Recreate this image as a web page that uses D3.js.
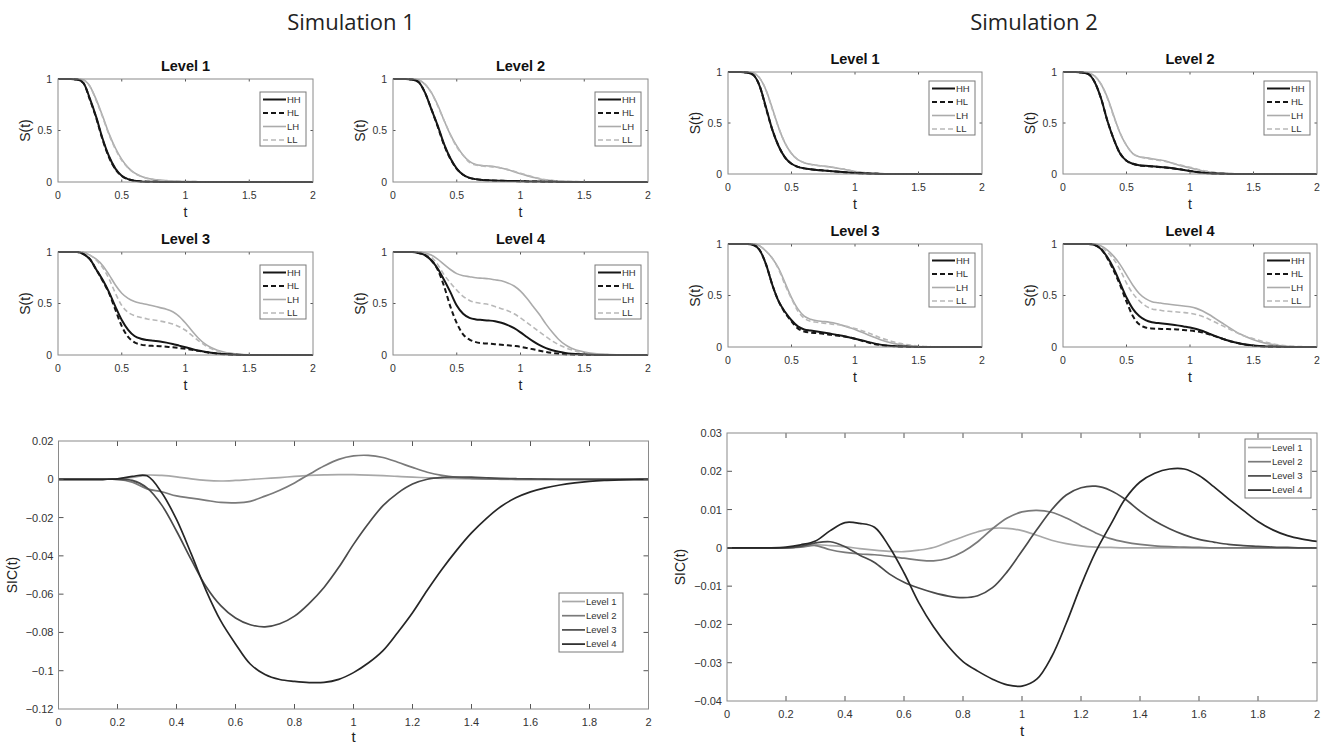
<!DOCTYPE html>
<html><head><meta charset="utf-8">
<script src="https://cdn.jsdelivr.net/npm/d3@7/dist/d3.min.js"></script>
<style>body{margin:0;background:#fff}svg{display:block}</style>
</head><body><svg id="c" width="1329" height="745"></svg>
<script>
// ---------------- DATA ----------------
const simTitles = ["Simulation 1", "Simulation 2"];
const levelNames = ["Level 1", "Level 2", "Level 3", "Level 4"];
const condNames = ["HH", "HL", "LH", "LL"];
const sTicksX = [0, 0.5, 1, 1.5, 2];
const sTicksY = [0, 0.5, 1];
const sicTicksX = [0, 0.2, 0.4, 0.6, 0.8, 1, 1.2, 1.4, 1.6, 1.8, 2];
const sic1TicksY = [0.02, 0, -0.02, -0.04, -0.06, -0.08, -0.1, -0.12];
const sic2TicksY = [0.03, 0.02, 0.01, 0, -0.01, -0.02, -0.03, -0.04];

const tS = [0,0.1,0.15,0.2,0.25,0.3,0.35,0.4,0.45,0.5,0.55,0.6,0.65,0.7,0.75,0.8,0.85,0.9,0.95,1.0,1.05,1.1,1.15,1.2,1.25,1.3,1.35,1.4,1.5,1.6,1.7,1.8,1.9,2.0];

// Simulation 1 survivor functions
const s1L1_HH = [1,1,0.995,0.96,0.81,0.63,0.42,0.25,0.13,0.06,0.028,0.012,0.006,0.003,0.002,0.001,0.001,0,0,0,0,0,0,0,0,0,0,0,0,0,0,0,0,0];
const s1L1_HL = [1,1,0.995,0.96,0.8,0.62,0.41,0.24,0.125,0.058,0.027,0.012,0.006,0.003,0.002,0.001,0,0,0,0,0,0,0,0,0,0,0,0,0,0,0,0,0,0];
const s1L1_LH = [1,1,1,0.99,0.93,0.8,0.64,0.47,0.33,0.22,0.14,0.088,0.056,0.036,0.025,0.018,0.014,0.01,0.007,0.005,0.004,0.003,0.002,0.001,0.001,0,0,0,0,0,0,0,0,0];
const s1L1_LL = [1,1,1,0.99,0.93,0.79,0.63,0.46,0.32,0.21,0.135,0.085,0.055,0.035,0.024,0.017,0.013,0.01,0.007,0.005,0.004,0.003,0.002,0.001,0.001,0,0,0,0,0,0,0,0,0];

const s1L2_HH = [1,1,0.995,0.97,0.87,0.71,0.55,0.37,0.23,0.13,0.07,0.04,0.028,0.02,0.016,0.014,0.012,0.01,0.009,0.008,0.006,0.005,0.004,0.003,0.002,0.001,0.001,0,0,0,0,0,0,0];
const s1L2_HL = [1,1,0.995,0.97,0.87,0.71,0.54,0.36,0.225,0.128,0.07,0.04,0.027,0.02,0.016,0.013,0.011,0.01,0.009,0.007,0.006,0.005,0.004,0.003,0.002,0.001,0.001,0,0,0,0,0,0,0];
const s1L2_LH = [1,1,1,0.99,0.95,0.87,0.75,0.6,0.46,0.35,0.26,0.2,0.17,0.16,0.155,0.148,0.135,0.12,0.1,0.08,0.062,0.045,0.03,0.02,0.014,0.01,0.007,0.005,0.002,0.001,0,0,0,0];
const s1L2_LL = [1,1,1,0.99,0.95,0.87,0.74,0.6,0.46,0.34,0.26,0.19,0.165,0.155,0.15,0.145,0.135,0.12,0.105,0.085,0.066,0.048,0.033,0.022,0.015,0.01,0.007,0.005,0.002,0.001,0,0,0,0];

const s1L3_HH = [1,1,1,0.98,0.93,0.83,0.73,0.61,0.47,0.34,0.245,0.185,0.158,0.145,0.138,0.131,0.12,0.107,0.091,0.075,0.058,0.043,0.031,0.021,0.014,0.009,0.005,0.003,0.001,0,0,0,0,0];
const s1L3_HL = [1,1,1,0.98,0.93,0.83,0.72,0.6,0.44,0.28,0.175,0.123,0.101,0.092,0.088,0.085,0.08,0.075,0.068,0.06,0.05,0.04,0.03,0.02,0.013,0.008,0.004,0.002,0,0,0,0,0,0];
const s1L3_LH = [1,1,1,0.995,0.97,0.93,0.87,0.78,0.68,0.6,0.55,0.52,0.503,0.49,0.475,0.46,0.445,0.42,0.375,0.31,0.235,0.165,0.11,0.072,0.047,0.03,0.018,0.01,0.003,0.001,0,0,0,0];
const s1L3_LL = [1,1,1,0.995,0.97,0.92,0.85,0.74,0.6,0.48,0.415,0.382,0.365,0.35,0.34,0.33,0.317,0.3,0.275,0.24,0.19,0.14,0.097,0.062,0.038,0.022,0.012,0.006,0.002,0.001,0,0,0,0];

const s1L4_HH = [1,1,1,0.99,0.97,0.92,0.84,0.73,0.61,0.48,0.4,0.36,0.345,0.34,0.335,0.328,0.313,0.29,0.26,0.22,0.175,0.132,0.095,0.067,0.046,0.031,0.02,0.012,0.005,0.001,0,0,0,0];
const s1L4_HL = [1,1,1,0.99,0.97,0.92,0.83,0.67,0.47,0.31,0.2,0.15,0.125,0.115,0.11,0.105,0.1,0.095,0.088,0.08,0.068,0.055,0.042,0.03,0.02,0.012,0.007,0.004,0.001,0,0,0,0,0];
const s1L4_LH = [1,1,1,1,0.99,0.97,0.93,0.88,0.83,0.79,0.77,0.76,0.75,0.745,0.74,0.73,0.72,0.7,0.67,0.62,0.55,0.47,0.39,0.3,0.22,0.15,0.1,0.065,0.03,0.012,0.005,0.001,0,0];
const s1L4_LL = [1,1,1,1,0.98,0.95,0.88,0.78,0.7,0.63,0.57,0.53,0.51,0.5,0.49,0.47,0.45,0.43,0.4,0.36,0.315,0.27,0.223,0.178,0.135,0.1,0.072,0.05,0.02,0.008,0.003,0.001,0,0];

// Simulation 2 survivor functions
const s2L1_HH = [1,1,0.995,0.97,0.86,0.65,0.43,0.27,0.16,0.1,0.07,0.055,0.047,0.04,0.035,0.03,0.025,0.02,0.015,0.01,0.007,0.004,0.002,0.001,0,0,0,0,0,0,0,0,0,0];
const s2L1_HL = [1,1,0.995,0.97,0.86,0.64,0.43,0.27,0.16,0.1,0.07,0.055,0.046,0.04,0.034,0.029,0.024,0.019,0.014,0.01,0.007,0.004,0.002,0.001,0,0,0,0,0,0,0,0,0,0];
const s2L1_LH = [1,1,1,0.99,0.94,0.82,0.64,0.45,0.3,0.2,0.14,0.11,0.095,0.085,0.078,0.07,0.06,0.05,0.037,0.025,0.017,0.01,0.007,0.004,0.002,0.001,0,0,0,0,0,0,0,0];
const s2L1_LL = [1,1,1,0.99,0.94,0.82,0.63,0.45,0.3,0.2,0.14,0.11,0.093,0.084,0.077,0.07,0.06,0.05,0.038,0.026,0.018,0.011,0.007,0.004,0.002,0.001,0,0,0,0,0,0,0,0];

const s2L2_HH = [1,1,0.995,0.98,0.9,0.74,0.52,0.34,0.2,0.13,0.1,0.085,0.08,0.075,0.07,0.065,0.058,0.05,0.04,0.03,0.02,0.012,0.007,0.004,0.002,0.001,0,0,0,0,0,0,0,0];
const s2L2_HL = [1,1,0.995,0.98,0.9,0.74,0.52,0.34,0.2,0.13,0.1,0.085,0.079,0.074,0.069,0.064,0.057,0.049,0.04,0.03,0.02,0.012,0.007,0.004,0.002,0.001,0,0,0,0,0,0,0,0];
const s2L2_LH = [1,1,1,0.99,0.96,0.88,0.75,0.57,0.4,0.28,0.2,0.17,0.16,0.15,0.14,0.13,0.11,0.09,0.075,0.06,0.045,0.03,0.02,0.012,0.008,0.005,0.003,0.002,0,0,0,0,0,0];
const s2L2_LL = [1,1,1,0.99,0.96,0.88,0.74,0.56,0.4,0.28,0.2,0.17,0.155,0.145,0.135,0.125,0.11,0.095,0.08,0.065,0.05,0.035,0.024,0.015,0.009,0.006,0.003,0.002,0.001,0,0,0,0,0];

const s2L3_HH = [1,1,1,0.99,0.94,0.8,0.6,0.44,0.34,0.26,0.2,0.17,0.16,0.15,0.14,0.13,0.12,0.11,0.095,0.08,0.065,0.05,0.035,0.023,0.015,0.01,0.006,0.004,0.001,0,0,0,0,0];
const s2L3_HL = [1,1,1,0.99,0.94,0.8,0.6,0.44,0.33,0.25,0.18,0.15,0.14,0.135,0.128,0.12,0.112,0.105,0.093,0.08,0.062,0.045,0.03,0.02,0.013,0.008,0.004,0.002,0,0,0,0,0,0];
const s2L3_LH = [1,1,1,1,0.98,0.93,0.86,0.76,0.62,0.48,0.37,0.3,0.27,0.255,0.248,0.24,0.228,0.21,0.19,0.17,0.145,0.12,0.095,0.07,0.05,0.035,0.024,0.015,0.005,0.001,0,0,0,0];
const s2L3_LL = [1,1,1,1,0.98,0.93,0.86,0.75,0.6,0.47,0.35,0.28,0.25,0.24,0.232,0.225,0.218,0.21,0.195,0.18,0.16,0.14,0.115,0.09,0.07,0.05,0.035,0.025,0.01,0.003,0.001,0,0,0];

const s2L4_HH = [1,1,1,1,0.99,0.95,0.87,0.76,0.62,0.48,0.37,0.3,0.26,0.24,0.232,0.225,0.218,0.21,0.2,0.19,0.175,0.155,0.13,0.105,0.083,0.063,0.046,0.032,0.015,0.006,0.002,0,0,0];
const s2L4_HL = [1,1,1,1,0.99,0.95,0.86,0.74,0.6,0.44,0.3,0.22,0.19,0.18,0.177,0.175,0.172,0.17,0.165,0.16,0.152,0.14,0.123,0.103,0.083,0.063,0.046,0.032,0.012,0.004,0.001,0,0,0];
const s2L4_LH = [1,1,1,1,1,0.98,0.94,0.88,0.8,0.7,0.6,0.52,0.47,0.44,0.43,0.42,0.412,0.405,0.398,0.39,0.375,0.35,0.315,0.275,0.235,0.195,0.157,0.123,0.07,0.035,0.015,0.005,0.001,0];
const s2L4_LL = [1,1,1,1,0.995,0.97,0.92,0.85,0.75,0.62,0.52,0.45,0.4,0.37,0.36,0.35,0.345,0.34,0.335,0.328,0.315,0.295,0.27,0.24,0.21,0.18,0.15,0.12,0.08,0.045,0.02,0.008,0.003,0];

// SIC curves
const tSIC = [0,0.05,0.1,0.15,0.2,0.25,0.3,0.35,0.4,0.45,0.5,0.55,0.6,0.65,0.7,0.75,0.8,0.85,0.9,0.95,1.0,1.05,1.1,1.15,1.2,1.25,1.3,1.35,1.4,1.45,1.5,1.55,1.6,1.65,1.7,1.75,1.8,1.85,1.9,1.95,2.0];
const sic1_L1 = [0,0,0,0,0.0002,0.001,0.0022,0.002,0.0013,0.0002,-0.0006,-0.0009,-0.0006,-0.0001,0.0004,0.0009,0.0015,0.002,0.0023,0.0024,0.0024,0.0022,0.0019,0.0015,0.0011,0.0008,0.0005,0.0003,0.0002,0.0001,0,0,0,0,0,0,0,0,0,0,0];
const sic1_L2 = [0,0,0,0,0,-0.0015,-0.005,-0.0065,-0.0087,-0.0098,-0.011,-0.0121,-0.0123,-0.0115,-0.0088,-0.0057,-0.0019,0.0026,0.0069,0.0104,0.0122,0.0125,0.0114,0.0089,0.0062,0.0037,0.002,0.001,0.0005,0.0002,0.0001,0,0,0,0,0,0,0,0,0,0];
const sic1_L3 = [0,0,0,0,0,-0.0006,-0.0045,-0.0135,-0.027,-0.042,-0.056,-0.066,-0.0725,-0.076,-0.0771,-0.0755,-0.0715,-0.0648,-0.0565,-0.046,-0.034,-0.0232,-0.0138,-0.0072,-0.0025,0,0.001,0.0012,0.0011,0.0008,0.0005,0.0003,0.0002,0.0001,0,0,0,0,0,0,0];
const sic1_L4 = [0,0,0,0,0.0002,0.0015,0.0018,-0.007,-0.021,-0.039,-0.058,-0.074,-0.086,-0.0965,-0.102,-0.1046,-0.1056,-0.1062,-0.1061,-0.1045,-0.101,-0.096,-0.0895,-0.08,-0.0697,-0.058,-0.047,-0.037,-0.028,-0.0205,-0.0142,-0.0097,-0.0066,-0.0045,-0.003,-0.0019,-0.0011,-0.0006,-0.0003,-0.0001,0];
const sic2_L1 = [0,0,0,0,0,0.0003,0.0008,0.0006,0.0003,-0.0002,-0.0006,-0.0009,-0.001,-0.0006,0.0001,0.0015,0.0029,0.0042,0.0051,0.0051,0.0045,0.0033,0.002,0.0011,0.0005,0.0002,0.0001,0,0,0,0,0,0,0,0,0,0,0,0,0,0];
const sic2_L2 = [0,0,0,0,0,0.0002,0.0006,-0.0005,-0.0012,-0.0016,-0.0018,-0.0022,-0.0027,-0.0032,-0.0034,-0.0027,-0.001,0.0016,0.005,0.0078,0.0094,0.0098,0.0093,0.0078,0.0058,0.0039,0.0024,0.0015,0.0009,0.0005,0.0003,0.0002,0.0001,0,0,0,0,0,0,0,0];
const sic2_L3 = [0,0,0,0,0,0.0004,0.0013,0.0016,0.0003,-0.0019,-0.0038,-0.0068,-0.009,-0.0105,-0.0117,-0.0126,-0.013,-0.0125,-0.0104,-0.0062,-0.0008,0.0047,0.0099,0.0138,0.0157,0.0161,0.015,0.0127,0.0096,0.007,0.005,0.0034,0.0022,0.0015,0.0009,0.0006,0.0004,0.0002,0.0001,0,0];
const sic2_L4 = [0,0,0,0,0.0002,0.0008,0.0018,0.0045,0.0066,0.0064,0.0054,0.0003,-0.0065,-0.0143,-0.0206,-0.0257,-0.0297,-0.0322,-0.0343,-0.0358,-0.0361,-0.0343,-0.0285,-0.0197,-0.0098,-0.001,0.006,0.0128,0.0172,0.0195,0.0206,0.0206,0.0189,0.016,0.0128,0.0098,0.0069,0.0047,0.0032,0.0023,0.0017];

// ---------------- DRAWING ----------------
const svg = d3.select("#c");
const FONT = "'Liberation Sans', Arial, sans-serif";
const condStyle = {
  HH: {stroke: "#161616", w: 2, dash: null},
  HL: {stroke: "#161616", w: 2, dash: "5,3"},
  LH: {stroke: "#ababab", w: 1.6, dash: null},
  LL: {stroke: "#b8b8b8", w: 1.6, dash: "5,3"}
};
const levelColors = ["#a8a8a8", "#7a7a7a", "#4a4a4a", "#262626"];

const survival = [
  [[s1L1_HH,s1L1_HL,s1L1_LH,s1L1_LL],[s1L2_HH,s1L2_HL,s1L2_LH,s1L2_LL],[s1L3_HH,s1L3_HL,s1L3_LH,s1L3_LL],[s1L4_HH,s1L4_HL,s1L4_LH,s1L4_LL]],
  [[s2L1_HH,s2L1_HL,s2L1_LH,s2L1_LL],[s2L2_HH,s2L2_HL,s2L2_LH,s2L2_LL],[s2L3_HH,s2L3_HL,s2L3_LH,s2L3_LL],[s2L4_HH,s2L4_HL,s2L4_LH,s2L4_LL]]
];
const sicData = [[sic1_L1,sic1_L2,sic1_L3,sic1_L4],[sic2_L1,sic2_L2,sic2_L3,sic2_L4]];

const panelBoxes = [
  [{x0:58,x1:313,y0:79,y1:182},{x0:393,x1:648,y0:79,y1:182},{x0:58,x1:313,y0:252,y1:355},{x0:393,x1:648,y0:252,y1:355}],
  [{x0:728,x1:982,y0:72,y1:174},{x0:1063,x1:1317,y0:72,y1:174},{x0:728,x1:982,y0:244,y1:347},{x0:1063,x1:1317,y0:244,y1:347}]
];
const legendOffset = [13, 9];
const titlePos = [{x:351,y:30},{x:1034,y:30}];
const sicBoxes = [{x0:58.5,x1:648.5,y0:441,y1:709},{x0:727,x1:1317,y0:433,y1:701}];
const sicDomains = [[-0.12,0.02],[-0.04,0.03]];
const sicTicksY = [sic1TicksY, sic2TicksY];
const sicLegend = [{x:559,y:593,w:64,h:59},{x:1245,y:439,w:66,h:59}];

function fmt(v){ return d3.format("~g")(+v.toFixed(4)); }

function drawBox(g, x, y, tickLen, xTicks, yTicks) {
  const [x0,x1] = x.range(), [y1,y0] = y.range();
  xTicks.forEach(v => {
    const px = x(v);
    if (Math.abs(px-x0)<0.5 || Math.abs(px-x1)<0.5) return;
    g.append("line").attr("x1",px).attr("x2",px).attr("y1",y1).attr("y2",y1-tickLen).attr("stroke","#555");
    g.append("line").attr("x1",px).attr("x2",px).attr("y1",y0).attr("y2",y0+tickLen).attr("stroke","#555");
  });
  yTicks.forEach(v => {
    const py = y(v);
    if (Math.abs(py-y0)<0.5 || Math.abs(py-y1)<0.5) return;
    g.append("line").attr("x1",x0).attr("x2",x0+tickLen).attr("y1",py).attr("y2",py).attr("stroke","#555");
    g.append("line").attr("x1",x1).attr("x2",x1-tickLen).attr("y1",py).attr("y2",py).attr("stroke","#555");
  });
  g.append("rect").attr("x",x0).attr("y",y0).attr("width",x1-x0).attr("height",y1-y0)
    .attr("fill","none").attr("stroke","#8a8a8a").attr("stroke-width",1);
}

simTitles.forEach((t,i)=>{
  svg.append("text").attr("x",titlePos[i].x).attr("y",titlePos[i].y).attr("text-anchor","middle")
    .attr("font-family","'Open Sans', sans-serif").attr("font-size",22).attr("fill","#222").text(t);
});

survival.forEach((sim, si) => {
  sim.forEach((lev, li) => {
    const b = panelBoxes[si][li];
    const g = svg.append("g");
    const x = d3.scaleLinear().domain([0,2]).range([b.x0,b.x1]);
    const y = d3.scaleLinear().domain([0,1]).range([b.y1,b.y0]);
    const line = d3.line().x((d,i)=>x(tS[i])).y(d=>y(d)).curve(d3.curveMonotoneX);
    [2,3,0,1].forEach(ci => {
      const st = condStyle[condNames[ci]];
      g.append("path").attr("d", line(lev[ci])).attr("fill","none")
        .attr("stroke",st.stroke).attr("stroke-width",st.w)
        .attr("stroke-dasharray",st.dash);
    });
    drawBox(g, x, y, 2.5, sTicksX, sTicksY);
    sTicksX.forEach(v => g.append("text").attr("x",x(v)).attr("y",b.y1+17).attr("text-anchor","middle")
      .attr("font-family",FONT).attr("font-size",10.5).attr("fill","#333").text(fmt(v)));
    sTicksY.forEach(v => g.append("text").attr("x",b.x0-6).attr("y",y(v)+3.8).attr("text-anchor","end")
      .attr("font-family",FONT).attr("font-size",10.5).attr("fill","#333").text(fmt(v)));
    g.append("text").attr("x",(b.x0+b.x1)/2).attr("y",b.y1+35).attr("text-anchor","middle")
      .attr("font-family",FONT).attr("font-size",14).attr("fill","#222").text("t");
    g.append("text").attr("transform",`translate(${b.x0-28},${(b.y0+b.y1)/2}) rotate(-90)`)
      .attr("text-anchor","middle").attr("font-family",FONT).attr("font-size",14).attr("fill","#222").text("S(t)");
    g.append("text").attr("x",(b.x0+b.x1)/2).attr("y",b.y0-8).attr("text-anchor","middle")
      .attr("font-family",FONT).attr("font-weight","bold").attr("font-size",14.5).attr("fill","#111").text(levelNames[li]);
    const lx = b.x1-53, ly = b.y0+legendOffset[si], lw = 46, lh = 54;
    g.append("rect").attr("x",lx).attr("y",ly).attr("width",lw).attr("height",lh)
      .attr("fill","#fff").attr("stroke","#7a7a7a").attr("stroke-width",1);
    condNames.forEach((c,ci)=>{
      const st = condStyle[c], yy = ly + 7.5 + ci*13.5;
      g.append("line").attr("x1",lx+3).attr("x2",lx+26).attr("y1",yy).attr("y2",yy)
        .attr("stroke",st.stroke).attr("stroke-width",st.w).attr("stroke-dasharray",st.dash);
      g.append("text").attr("x",lx+27).attr("y",yy+3.3).attr("font-family",FONT).attr("font-size",9.5)
        .attr("fill","#333").text(c);
    });
  });
});

sicData.forEach((series, si) => {
  const b = sicBoxes[si];
  const g = svg.append("g");
  const x = d3.scaleLinear().domain([0,2]).range([b.x0,b.x1]);
  const y = d3.scaleLinear().domain(sicDomains[si]).range([b.y1,b.y0]);
  const line = d3.line().x((d,i)=>x(tSIC[i])).y(d=>y(d)).curve(d3.curveCatmullRom.alpha(0.5));
  series.forEach((s, li) => {
    g.append("path").attr("d", line(s)).attr("fill","none").attr("stroke",levelColors[li]).attr("stroke-width",1.7);
  });
  drawBox(g, x, y, 5, sicTicksX, sicTicksY[si]);
  sicTicksX.forEach(v => g.append("text").attr("x",x(v)).attr("y",b.y1+17).attr("text-anchor","middle")
    .attr("font-family",FONT).attr("font-size",11).attr("fill","#333").text(fmt(v)));
  sicTicksY[si].forEach(v => g.append("text").attr("x",b.x0-5).attr("y",y(v)+4).attr("text-anchor","end")
    .attr("font-family",FONT).attr("font-size",11).attr("fill","#333").text(fmt(v)));
  g.append("text").attr("x",(b.x0+b.x1)/2).attr("y",Math.min(b.y1+35,742)).attr("text-anchor","middle")
    .attr("font-family",FONT).attr("font-size",15).attr("fill","#222").text("t");
  g.append("text").attr("transform",`translate(${b.x0-42},${(b.y0+b.y1)/2}) rotate(-90)`)
    .attr("text-anchor","middle").attr("font-family",FONT).attr("font-size",14).attr("fill","#222").text("SIC(t)");
  const L = sicLegend[si];
  g.append("rect").attr("x",L.x).attr("y",L.y).attr("width",L.w).attr("height",L.h)
    .attr("fill","#fff").attr("stroke","#7a7a7a").attr("stroke-width",1);
  levelNames.forEach((n,li)=>{
    const yy = L.y + 8.5 + li*14.2;
    g.append("line").attr("x1",L.x+3).attr("x2",L.x+26).attr("y1",yy).attr("y2",yy)
      .attr("stroke",levelColors[li]).attr("stroke-width",1.7);
    g.append("text").attr("x",L.x+27).attr("y",yy+3.3).attr("font-family",FONT).attr("font-size",9.5)
      .attr("fill","#333").text(n);
  });
});
</script></body></html>
